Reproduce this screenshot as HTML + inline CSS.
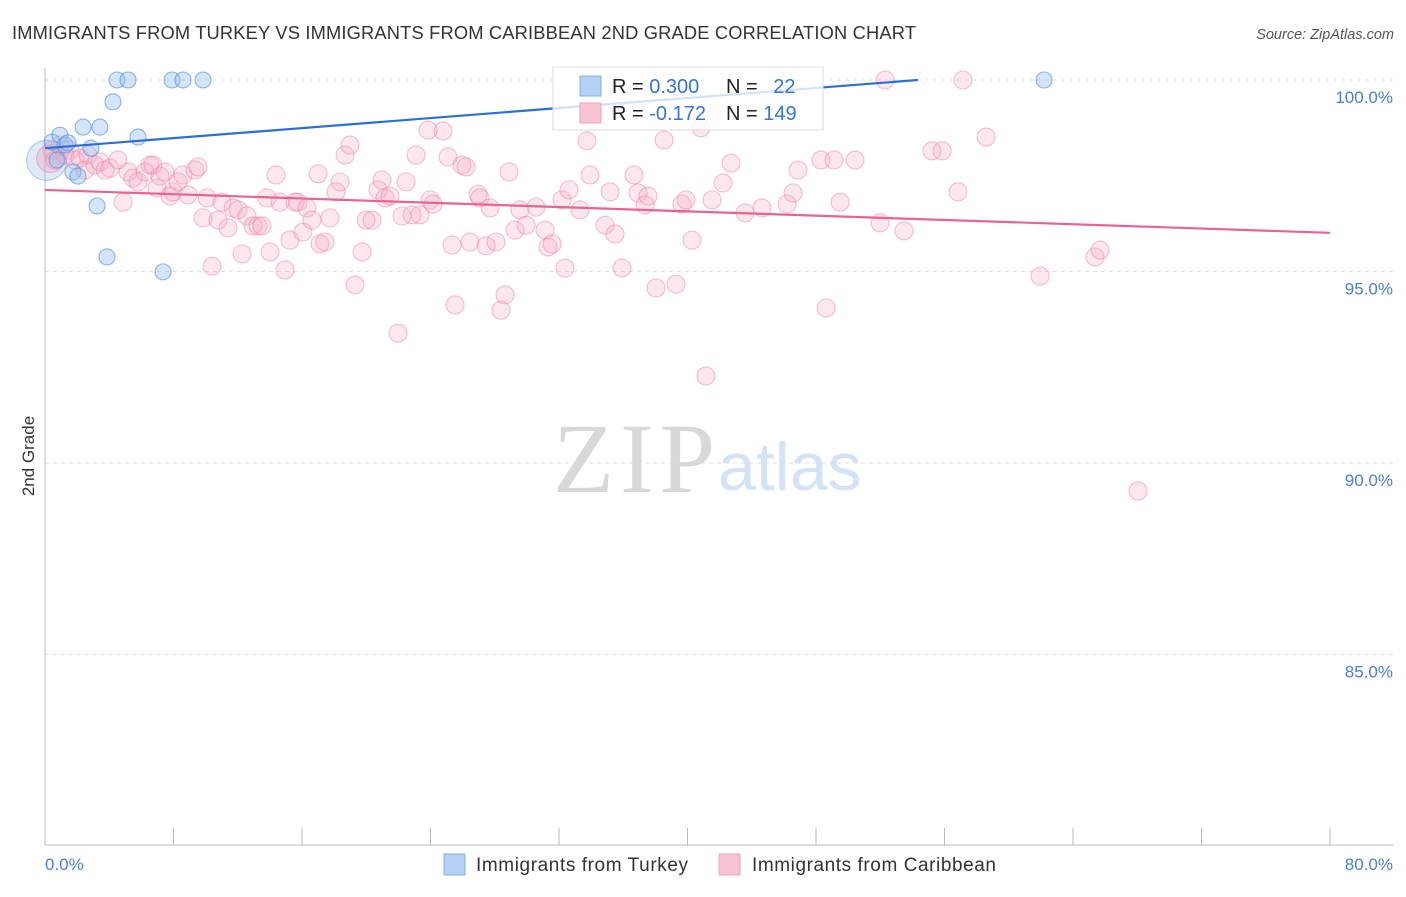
<!DOCTYPE html>
<html><head><meta charset="utf-8"><style>
body{margin:0;background:#fff;font-family:"Liberation Sans",sans-serif}
</style></head><body>
<svg id="chart" width="1406" height="892" xmlns="http://www.w3.org/2000/svg" font-family="Liberation Sans, sans-serif">
<text x="12" y="39" font-size="18.3" fill="#333" textLength="904">IMMIGRANTS FROM TURKEY VS IMMIGRANTS FROM CARIBBEAN 2ND GRADE CORRELATION CHART</text>
<text x="1394" y="39" font-size="14.5" fill="#555" text-anchor="end" font-style="italic">Source: ZipAtlas.com</text>
<g>
<text x="553" y="492" font-size="100" fill="#d8d8d8" font-family="Liberation Serif, serif" textLength="162">ZIP</text>
<text x="718" y="490" font-size="68" fill="#d3e3f5">atlas</text>
</g>
<g id="grid"></g>
<g id="axes"></g>
<g id="marks"></g>
<g id="lines"></g>
<text transform="translate(34,456) rotate(-90)" font-size="17" fill="#333" text-anchor="middle">2nd Grade</text>
<text x="45" y="870" font-size="17" fill="#4a7fd4">0.0%</text>
<text x="1393" y="870" font-size="17" fill="#4a7fd4" text-anchor="end">80.0%</text>
<g>
<rect x="553" y="67" width="270" height="63" fill="#fff" fill-opacity="0.8" stroke="#ddd"/>
<rect x="580" y="76" width="21" height="20" fill="#b5d0f2" stroke="#7fb0e8"/>
<rect x="580" y="103" width="21" height="20" fill="#f8c3d4" stroke="#f0a5bd"/>
<text x="612" y="93" font-size="20" fill="#222">R = <tspan fill="#3575d3">0.300</tspan></text>
<text x="726" y="93" font-size="20" fill="#222">N = <tspan fill="#3575d3" dx="10">22</tspan></text>
<text x="612" y="120" font-size="20" fill="#222">R = <tspan fill="#3575d3">-0.172</tspan></text>
<text x="726" y="120" font-size="20" fill="#222">N = <tspan fill="#3575d3">149</tspan></text>
</g>
<g>
<rect x="444" y="854" width="21" height="21" fill="#b5d0f2" stroke="#7fb0e8"/>
<text x="476" y="871" font-size="19" fill="#333" textLength="212">Immigrants from Turkey</text>
</g>
<g>
<rect x="719" y="854" width="21" height="21" fill="#f8c3d4" stroke="#f0a5bd"/>
<text x="752" y="871" font-size="19" fill="#333" textLength="244">Immigrants from Caribbean</text>
</g>
</svg>
<script>
const yTicks=[100,95,90,85];
const yTickLabels=["100.0%","95.0%","90.0%","85.0%"];
const xTicks=[0,8,16,24,32,40,48,56,64,72,80];
const turkeyX=[0.44,0.75,0.93,1.25,1.43,1.74,2.05,2.37,2.86,3.24,3.42,3.86,4.23,4.48,5.17,5.79,7.35,7.91,8.59,9.84,62.2];
const turkeyY=[98.38,97.91,98.56,98.3,98.36,97.6,97.49,98.77,98.22,96.71,98.77,95.38,99.43,100,100,98.51,94.99,100,100,100,100];
const caribX=[0.44,0.62,0.93,1.25,1.56,1.87,2.18,2.49,2.68,3.11,3.42,3.74,4.05,4.54,4.86,5.17,5.48,5.79,6.23,6.54,6.72,6.97,7.16,7.47,7.78,7.97,8.28,8.59,8.9,9.34,9.53,9.84,10.09,10.4,10.77,11.02,11.39,11.71,12.02,12.27,12.58,12.95,13.26,13.51,13.82,14.01,14.38,14.63,14.94,15.25,15.57,15.75,16.06,16.31,16.62,17,17.12,17.43,17.74,18.12,18.37,18.68,18.99,19.3,19.74,19.99,20.36,20.73,20.98,21.17,21.48,21.98,22.23,22.48,22.85,23.1,23.35,23.85,23.97,24.16,24.78,25.09,25.34,25.53,25.96,26.21,26.46,26.96,27.08,27.46,27.71,28.08,28.39,28.64,28.89,29.26,29.57,29.95,30.57,31.13,31.32,31.57,32.19,32.37,32.62,33.31,33.74,33.93,34.87,35.18,35.49,35.92,36.67,36.92,37.36,37.54,38.04,38.54,39.29,39.66,39.91,40.28,40.84,41.15,41.53,42.21,42.71,43.58,44.64,46.2,46.57,46.88,48.31,49.12,49.5,50.43,51.99,52.3,53.48,55.22,55.85,56.84,57.15,58.59,61.95,65.37,65.69,68.05,48.63];
const caribY=[98.17,97.91,98.3,98.04,98.17,97.91,97.96,97.65,98.04,97.78,97.86,97.65,97.7,97.91,96.81,97.6,97.44,97.34,97.6,97.78,97.78,97.18,97.49,97.6,96.97,97.08,97.34,97.52,97,97.65,97.73,96.4,96.92,95.14,96.34,96.81,96.14,96.66,96.61,95.46,96.45,96.19,96.19,96.19,96.92,95.51,97.52,96.81,95.04,95.82,96.81,96.81,96.03,96.66,96.34,97.55,95.72,95.77,96.4,97.08,97.34,98.04,98.3,94.65,95.51,96.34,96.34,97.13,97.39,96.92,96.97,93.39,96.45,97.34,96.48,98.04,96.48,98.69,96.87,96.76,98.67,97.99,95.69,94.13,97.78,97.73,95.77,97.02,96.92,95.67,96.66,95.77,93.99,94.39,97.6,96.08,96.61,96.21,96.68,96.08,95.64,95.72,96.87,95.09,97.13,96.61,98.41,97.52,96.21,97.08,95.98,95.09,97.52,97.05,96.74,96.97,94.57,98.43,94.67,96.76,96.87,95.82,98.75,92.27,96.87,97.31,97.83,96.53,96.66,96.76,97.05,97.65,97.91,97.91,96.81,97.91,96.27,100,96.06,98.15,98.15,97.08,100,98.51,94.88,95.38,95.56,89.27,94.05];
const bigX=[0.1,0.35];
const bigY=[97.9,97.95];
const turkeyTrendX=[0,54.35];
const turkeyTrendY=[98.22,100];
const caribTrendX=[0,80];
const caribTrendY=[97.13,96.01];
const NS="http://www.w3.org/2000/svg";
const X0=45,X1=1330,Y0=80,Y5=38.3;
function sx(v){return X0+(v/80)*(X1-X0);}
function sy(v){return Y0+(100-v)*Y5;}
function mk(t,a,p){const e=document.createElementNS(NS,t);for(const k in a)e.setAttribute(k,a[k]);p.appendChild(e);return e;}
const grid=document.getElementById('grid'),axes=document.getElementById('axes'),marks=document.getElementById('marks'),lines=document.getElementById('lines');
yTicks.forEach((v,i)=>{
 const l=mk('line',{x1:X0,x2:1393,y1:sy(v),y2:sy(v),stroke:'#ddd','stroke-dasharray':'4,4'},grid);
 
 
 const t=mk('text',{x:1393,y:sy(v)+23,'font-size':17,fill:'#4a7fd4','text-anchor':'end'},grid);
 t.textContent=yTickLabels[i];
 
 
});
const ya=mk('line',{x1:X0,x2:X0,y1:68,y2:845,stroke:'#bbb'},axes);


const xa=mk('line',{x1:X0,x2:1393,y1:845,y2:845,stroke:'#bbb'},axes);


xTicks.forEach(v=>{
 const t=mk('line',{x1:sx(v),x2:sx(v),y1:828,y2:845,stroke:'#bbb'},axes);
 
 
});
bigX.forEach((v,i)=>{
 const c=mk('circle',{cx:sx(v),cy:sy(bigY[i]),r:i===0?20:14,fill:i===0?'rgba(150,185,235,0.3)':'rgba(240,160,190,0.35)',stroke:i===0?'rgba(90,150,225,0.5)':'rgba(230,120,160,0.5)'},marks);
 
 
});
caribX.forEach((v,i)=>{
 const c=mk('circle',{cx:sx(v),cy:sy(caribY[i]),r:9,fill:'rgba(246,170,196,0.28)',stroke:'rgba(236,130,165,0.5)','stroke-width':1.1},marks);
 
 
});
turkeyX.forEach((v,i)=>{
 const c=mk('circle',{cx:sx(v),cy:sy(turkeyY[i]),r:8,fill:'rgba(150,190,238,0.4)',stroke:'rgba(80,145,222,0.65)','stroke-width':1.1},marks);
 
 
});
const tl=mk('line',{x1:sx(turkeyTrendX[0]),y1:sy(turkeyTrendY[0]),x2:sx(turkeyTrendX[1]),y2:sy(turkeyTrendY[1]),stroke:'#2a6fd6','stroke-width':2.2},lines);


const cl=mk('line',{x1:sx(caribTrendX[0]),y1:sy(caribTrendY[0]),x2:sx(caribTrendX[1]),y2:sy(caribTrendY[1]),stroke:'#e8648f','stroke-width':2.2},lines);


</script>
</body></html>
